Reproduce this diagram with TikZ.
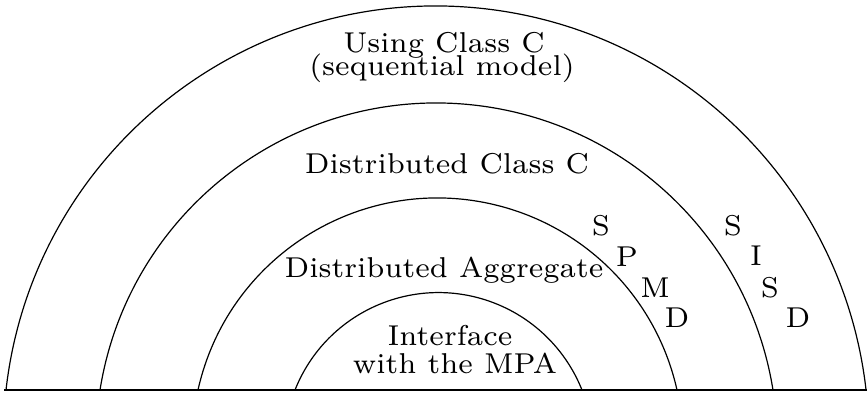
\documentclass[tikz,border=0pt]{standalone}
\usepackage{graphicx}
\tikzset{
  ring/.style={line width=1.2pt},
  base line/.style={line width=1.5pt},
  lbl/.style={inner sep=0pt, outer sep=0pt},
}
\newcommand\lbltext[1]{\scalebox{4.1}{\fontsize{7}{8}\selectfont #1}}
\begin{document}
\begin{tikzpicture}[x=1pt,y=1pt]
\useasboundingbox (0,0) rectangle (867,394);
% baseline
\coordinate (bl) at (4,4);
\coordinate (br) at (867,4);
\draw[base line] (bl) -- (br);
% arcs (circular, centres below the baseline)
\coordinate (o1) at (6,4);
\draw[ring] (o1) arc[start angle=173.53, end angle=6.47, radius=432.8];
\coordinate (o2) at (100,4);
\draw[ring] (o2) arc[start angle=170.92, end angle=9.08, radius=340.77];
\coordinate (o3) at (198,4);
\draw[ring] (o3) arc[start angle=167.44, end angle=12.56, radius=245.38];
\coordinate (o4) at (295,4);
\draw[ring] (o4) arc[start angle=158.34, end angle=21.66, radius=154.4];
% labels
\node[lbl, anchor=base] (t1) at (444,341) {\lbltext{Using Class C}};
\node[lbl, anchor=base] (t2) at (442,318) {\lbltext{(sequential model)}};
\node[lbl, anchor=base] (t3) at (447,220) {\lbltext{Distributed Class C}};
\node[lbl, anchor=base] (t4) at (444,117) {\lbltext{Distributed Aggregate}};
\node[lbl, anchor=base] (t5) at (450,49) {\lbltext{Interface}};
\node[lbl, anchor=base] (t6) at (455,21) {\lbltext{with the MPA}};
% SPMD
\node[lbl] (s1) at (601,168) {\lbltext{S}};
\node[lbl] (s2) at (627,137) {\lbltext{P}};
\node[lbl] (s3) at (655,106) {\lbltext{M}};
\node[lbl] (s4) at (677,76) {\lbltext{D}};
% SISD
\node[lbl] (d1) at (733,168) {\lbltext{S}};
\node[lbl] (d2) at (756,138) {\lbltext{I}};
\node[lbl] (d3) at (770,106) {\lbltext{S}};
\node[lbl] (d4) at (798,76) {\lbltext{D}};
\end{tikzpicture}
\end{document}
